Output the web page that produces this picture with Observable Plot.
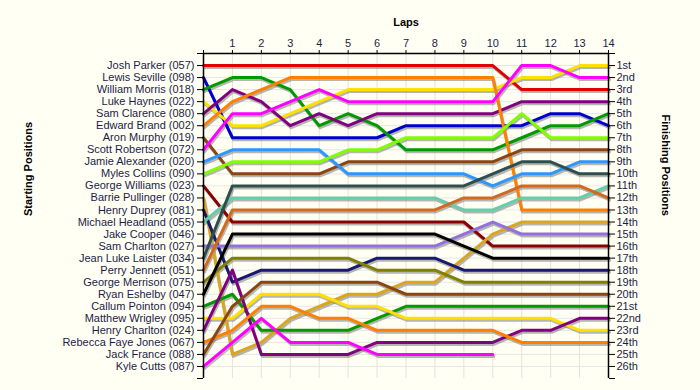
<!DOCTYPE html>
<html><head><meta charset="utf-8">
<script src="https://cdn.jsdelivr.net/npm/d3@7"></script>
<script src="https://cdn.jsdelivr.net/npm/@observablehq/plot@0.6"></script>
<style>
html,body{margin:0;padding:0;background:#fffff4;}
#chart{width:700px;height:390px;overflow:hidden;}
</style></head><body><div id="chart"></div>
<script>
const laps = d3.range(0, 15);
const startNames = ["Josh Parker (057)","Lewis Seville (098)","William Morris (018)","Luke Haynes (022)","Sam Clarence (080)","Edward Brand (002)","Aron Murphy (019)","Scott Robertson (072)","Jamie Alexander (020)","Myles Collins (090)","George Williams (023)","Barrie Pullinger (028)","Henry Duprey (081)","Michael Headland (055)","Jake Cooper (046)","Sam Charlton (027)","Jean Luke Laister (034)","Perry Jennett (051)","George Merrison (075)","Ryan Eshelby (047)","Callum Pointon (094)","Matthew Wrigley (095)","Henry Charlton (024)","Rebecca Faye Jones (067)","Jack France (088)","Kyle Cutts (087)"];
const finishLabels = ["1st","2nd","3rd","4th","5th","6th","7th","8th","9th","10th","11th","12th","13th","14th","15th","16th","17th","18th","19th","20th","21st","22nd","23rd","24th","25th","26th"];
const lineColors = ["#e00000","#0000cc","#009a00","#ffe000","#800080","#ff8000","#8b4513","#ff00ff","#2e96ff","#80ff00","#8b0000","#daa520","#191970","#66cdaa","#ff6347","#9370db","#2f4f4f","#d2691e","#808000","#000000","#009a00","#ffe000","#800080","#ff8000","#8b4513","#ff00ff"];
// race position of each driver (by starting order) at laps 0..14
const positions = [
  [1,1,1,1,1,1,1,1,1,1,1,3,3,3,3],
  [2,7,7,7,7,7,7,6,6,6,6,6,5,5,6],
  [3,2,2,3,6,5,6,8,8,8,8,7,6,6,5],
  [4,6,6,5,4,3,3,3,3,3,3,2,2,1,1],
  [5,3,4,6,5,6,5,5,5,5,5,4,4,4,4],
  [6,4,3,2,2,2,2,2,2,2,2,13,13,13,13],
  [7,10,10,10,10,9,9,9,9,9,9,8,8,8,8],
  [8,5,5,4,3,4,4,4,4,4,4,1,1,2,2],
  [9,8,8,8,8,10,10,10,10,10,11,10,10,9,9],
  [10,9,9,9,9,8,8,7,7,7,7,5,7,7,7],
  [11,14,14,14,14,14,14,14,14,14,16,16,16,16,16],
  [12,25,24,22,21,20,20,19,19,17,15,14,14,14,14],
  [13,19,18,18,18,18,17,17,17,18,18,18,18,18,18],
  [14,12,12,12,12,12,12,12,12,13,13,12,12,12,11],
  [],
  [16,16,16,16,16,16,16,16,16,15,14,15,15,15,15],
  [17,11,11,11,11,11,11,11,11,11,10,9,9,10,10],
  [18,13,13,13,13,13,13,13,13,12,12,11,11,11,12],
  [19,17,17,17,17,17,18,18,18,19,19,19,19,19,19],
  [20,15,15,15,15,15,15,15,15,16,17,17,17,17,17],
  [21,20,23,23,23,23,22,21,21,21,21,21,21,21,21],
  [22,22,20,20,20,21,21,22,22,22,22,22,22,23,23],
  [23,18,25,25,25,25,24,24,24,24,24,23,23,22,22],
  [24,23,21,21,22,22,23,23,23,23,23,24,24,24,24],
  [25,21,19,19,19,19,19,20,20,20,20,20,20,20,20],
  [26,24,22,24,24,24,25,25,25,25,25]
];

const rows = [];
positions.forEach((arr, i) => arr.forEach((p, lap) => rows.push({driver: i, lap: laps[lap], pos: p})));

const textColor = "#1c1c48";
const chart = Plot.plot({
  width: 700, height: 390,
  marginLeft: 203, marginRight: 92, marginTop: 53, marginBottom: 12,
  style: {background: "transparent", fontFamily: "'Liberation Sans', Arial, sans-serif", fontSize: "11px", color: textColor},
  x: {domain: [0, 14], axis: null},
  y: {domain: [0, 27], reverse: true, axis: null},
  color: {domain: d3.range(26), range: lineColors},
  marks: [
    Plot.ruleX(laps, {x: d => d, y1: 0, y2: 27, stroke: "#e2e2e2", strokeWidth: 1}),
    Plot.ruleY(d3.range(1, 27), {y: d => d, x1: 0, x2: 14, stroke: "#e6e6e6", strokeWidth: 1}),
    Plot.line(rows, {x: "lap", y: "pos", z: "driver", stroke: "#7a7a7a", strokeOpacity: 0.55, strokeWidth: 3, dx: 1, dy: 2, strokeLinejoin: "round"}),
    Plot.line(rows, {x: "lap", y: "pos", z: "driver", stroke: d => d.driver, strokeWidth: 3, strokeLinejoin: "round"}),
    Plot.ruleX([0, 14], {x: d => d, y1: 0, y2: 27, stroke: "black", strokeWidth: 1.5}),
    Plot.ruleY([0], {y: d => d, x1: 0, x2: 14, stroke: "black", strokeWidth: 1.5}),
    Plot.axisX({anchor: "top", ticks: laps, tickFormat: d => d === 0 ? "" : String(d), tickSize: 4, tickPadding: 3, label: null, stroke: "black", fill: textColor, fontSize: 11}),
    Plot.axisY({anchor: "left", ticks: d3.range(0, 28), tickFormat: d => startNames[d - 1] ?? "", tickSize: 6, tickPadding: 3, label: null, stroke: "black", fill: textColor, fontSize: 11}),
    Plot.axisY({anchor: "right", ticks: d3.range(0, 28), tickFormat: d => finishLabels[d - 1] ?? "", tickSize: 6, tickPadding: 2, label: null, stroke: "black", fill: textColor, fontSize: 11}),
    Plot.text(["Laps"], {frameAnchor: "top", dy: -35, fontWeight: "bold", fill: "black", fontSize: 11}),
    Plot.text(["Starting Positions"], {frameAnchor: "left", dx: -175, rotate: -90, fontWeight: "bold", fill: "black", fontSize: 11}),
    Plot.text(["Finishing Positions"], {frameAnchor: "right", dx: 57, rotate: 90, fontWeight: "bold", fill: "black", fontSize: 11})
  ]
});
document.getElementById("chart").appendChild(chart);
</script>
</body></html>
